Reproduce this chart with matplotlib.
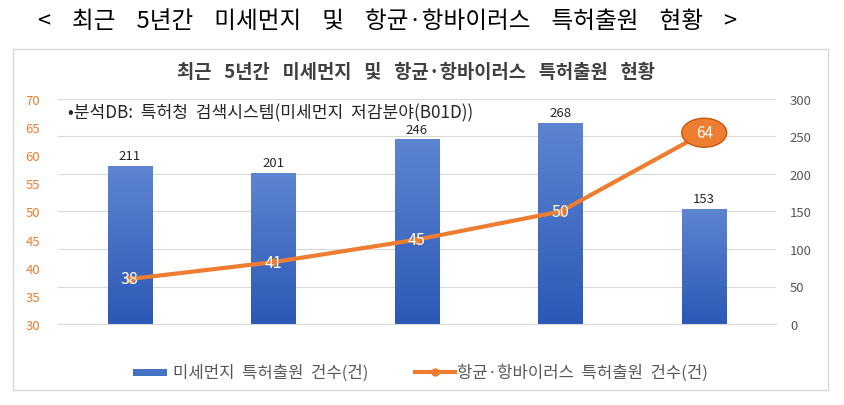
import matplotlib
matplotlib.use("Agg")
import matplotlib.pyplot as plt
import numpy as np
from matplotlib.patches import Rectangle, Ellipse
from matplotlib.lines import Line2D
from matplotlib.colors import LinearSegmentedColormap
from matplotlib.transforms import ScaledTranslation

plt.rcParams['font.family'] = ['Noto Sans CJK KR', 'DejaVu Sans']

categories = ['2016년', '2017년', '2018년', '2019년', '2020.9월']
dust_counts = [211, 201, 246, 268, 153]
antiviral_counts = [38, 41, 45, 50, 64]
left_ticks = [30, 35, 40, 45, 50, 55, 60, 65, 70]
right_ticks = [0, 50, 100, 150, 200, 250, 300]
legend_labels = ['미세먼지  특허출원  건수(건)', '항균·항바이러스  특허출원  건수(건)']
outer_title = '<    최근    5년간    미세먼지    및    항균·항바이러스    특허출원    현황    >'
inner_title = '최근   5년간   미세먼지   및   항균·항바이러스   특허출원   현황'
source_note = '•분석DB:  특허청  검색시스템(미세먼지  저감분야(B01D))'

ORANGE = '#ED7D31'
BLUE = '#4472C4'
W, H = 844, 406

def fx(px):
    return px / W

def fy(py):
    return 1 - py / H

fig = plt.figure(figsize=(8.44, 4.06), dpi=100)
fig.patch.set_facecolor('white')

# outer box
fig.patches.append(Rectangle((fx(13), fy(391)), (828 - 13) / W, (391 - 50) / H,
                             transform=fig.transFigure, fill=False, ec='#D9D9D9', lw=1))

fig.text(fx(38), fy(22), outer_title, fontsize=17, ha='left', va='center', color='black')

fig.text(fx(416), fy(73), inner_title,
         fontsize=13.5, fontweight='bold', ha='center', va='center', color='#404040')

axL = fig.add_axes([fx(58), fy(325), (776 - 58) / W, (325 - 100) / H])
axR = axL.twinx()
axL.set_zorder(axR.get_zorder() + 1)
axL.patch.set_visible(False)

x = np.arange(len(categories))
axR.set_ylim(0, 300)
axR.set_yticks(right_ticks)
bars = axR.bar(x, dust_counts, width=0.31, color=BLUE, zorder=2)

grad = np.linspace(0, 1, 256).reshape(-1, 1)
cmap = LinearSegmentedColormap.from_list('g', ['#2C58B6', '#5D85D1'])
for b in bars:
    bx, by = b.get_x(), b.get_y()
    w, h = b.get_width(), b.get_height()
    im = axR.imshow(grad, extent=[bx, bx + w, by, by + h], origin='lower',
                    cmap=cmap, aspect='auto', zorder=2)
    im.set_clip_path(b)
    b.set_facecolor('none')

for xi, v in zip(x, dust_counts):
    axR.text(xi, v + 5, str(v), ha='center', va='bottom', fontsize=9.5, color='#262626')

axR.set_xlim(-0.5, len(categories) - 0.5)
axL.set_xlim(-0.5, len(categories) - 0.5)

axL.set_ylim(30, 70)
axL.set_yticks(left_ticks)
axL.plot(x, antiviral_counts, color=ORANGE, lw=3, marker='o', ms=5, zorder=3,
         solid_capstyle='round')
for xi, v in zip(x[:-1], antiviral_counts[:-1]):
    axL.text(xi, v, str(v), ha='center', va='center', fontsize=11.5, color='white', zorder=4)

off = ScaledTranslation(x[-1], antiviral_counts[-1], axL.transData)
ell = Ellipse((0, 0), width=0.45, height=0.29, transform=fig.dpi_scale_trans + off,
              fc=ORANGE, ec='#C55A11', lw=1, zorder=5)
axL.add_artist(ell)
axL.text(x[-1], antiviral_counts[-1], str(antiviral_counts[-1]), ha='center', va='center',
         fontsize=11, color='white', zorder=6)

axR.grid(axis='y', color='#D9D9D9', lw=0.8, zorder=0)
axR.set_axisbelow(True)
for ax in (axL, axR):
    for s in ax.spines.values():
        s.set_visible(False)
    ax.tick_params(length=0)
axR.spines['bottom'].set_visible(True)
axR.spines['bottom'].set_color('#D9D9D9')

axL.tick_params(axis='y', colors=ORANGE, labelsize=9.5, pad=13)
axR.tick_params(axis='y', colors='#595959', labelsize=9.5, pad=10)
axL.set_xticks(x)
axL.set_xticklabels(categories, fontsize=10.5, color='#595959')
axL.tick_params(axis='x', pad=12)
axR.set_xticks([])

fig.text(fx(68), fy(113), source_note,
         fontsize=12.3, color='#262626', ha='left', va='center')

# legend drawn manually
fig.patches.append(Rectangle((fx(133), fy(377)), 34 / W, 7 / H, transform=fig.transFigure,
                             fc=BLUE, ec='none'))
fig.text(fx(173), fy(373), legend_labels[0], fontsize=12, color='#595959',
         ha='left', va='center')
fig.lines.append(Line2D([fx(415), fx(455)], [fy(373), fy(373)], transform=fig.transFigure,
                        color=ORANGE, lw=3))
fig.lines.append(Line2D([fx(435)], [fy(373)], transform=fig.transFigure,
                        color=ORANGE, marker='o', ms=5))
fig.text(fx(457), fy(373), legend_labels[1], fontsize=12, color='#595959',
         ha='left', va='center')

fig.savefig('out.png', dpi=100, facecolor='white')
